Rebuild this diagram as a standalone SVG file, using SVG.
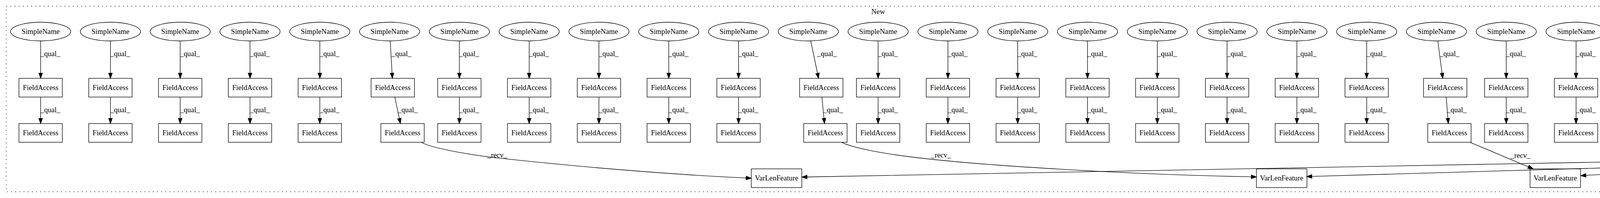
<svg xmlns="http://www.w3.org/2000/svg" width="5219" height="508" viewBox="0 0 5219 508">
<style>
text{font-family:"Liberation Serif","Times New Roman",serif;font-size:18.67px;fill:#000;text-anchor:middle}
.cl{fill:none;stroke:#000;stroke-width:1.33;stroke-dasharray:2,8.67}
.node ellipse,.node rect{fill:none;stroke:#000;stroke-width:1.33}
#edges path{fill:none;stroke:#000;stroke-width:1.33;marker-end:url(#ah)}
</style>
<defs>
<marker id="ah" markerUnits="userSpaceOnUse" markerWidth="13.33" markerHeight="9.33" viewBox="0 0 13.33 9.33" refX="0" refY="4.67" orient="auto" overflow="visible"><path d="M0,0 L13.33,4.67 L0,9.33 Z" fill="#000" stroke="#000" stroke-width="1.33"/></marker>
</defs>
<rect x="0" y="0" width="5219" height="508" fill="#fff"/>
<g id="cluster_new"><rect class="cl" x="16" y="16" width="4464" height="476"/><text x="2248" y="36">New</text></g>
<g id="cluster_old"><rect class="cl" x="4490.7" y="160" width="712.3" height="215.7"/><text x="4846.7" y="180">Old</text></g>

<g id="n_sn1" class="node"><ellipse cx="104" cy="81" rx="77" ry="24"/><text x="104" y="86.6">SimpleName</text></g>
<g id="n_sn2" class="node"><ellipse cx="282.7" cy="81" rx="77" ry="24"/><text x="282.7" y="86.6">SimpleName</text></g>
<g id="n_sn3" class="node"><ellipse cx="461.3" cy="81" rx="77" ry="24"/><text x="461.3" y="86.6">SimpleName</text></g>
<g id="n_sn4" class="node"><ellipse cx="640" cy="81" rx="77" ry="24"/><text x="640" y="86.6">SimpleName</text></g>
<g id="n_sn5" class="node"><ellipse cx="818.7" cy="81" rx="77" ry="24"/><text x="818.7" y="86.6">SimpleName</text></g>
<g id="n_sn6" class="node"><ellipse cx="997.3" cy="81" rx="77" ry="24"/><text x="997.3" y="86.6">SimpleName</text></g>
<g id="n_sn7" class="node"><ellipse cx="1176" cy="81" rx="77" ry="24"/><text x="1176" y="86.6">SimpleName</text></g>
<g id="n_sn8" class="node"><ellipse cx="1354.7" cy="81" rx="77" ry="24"/><text x="1354.7" y="86.6">SimpleName</text></g>
<g id="n_sn9" class="node"><ellipse cx="1533.3" cy="81" rx="77" ry="24"/><text x="1533.3" y="86.6">SimpleName</text></g>
<g id="n_sn10" class="node"><ellipse cx="1712" cy="81" rx="77" ry="24"/><text x="1712" y="86.6">SimpleName</text></g>
<g id="n_sn11" class="node"><ellipse cx="1890.7" cy="81" rx="77" ry="24"/><text x="1890.7" y="86.6">SimpleName</text></g>
<g id="n_sn12" class="node"><ellipse cx="2069.3" cy="81" rx="77" ry="24"/><text x="2069.3" y="86.6">SimpleName</text></g>
<g id="n_sn13" class="node"><ellipse cx="2248" cy="81" rx="77" ry="24"/><text x="2248" y="86.6">SimpleName</text></g>
<g id="n_sn14" class="node"><ellipse cx="2426.7" cy="81" rx="77" ry="24"/><text x="2426.7" y="86.6">SimpleName</text></g>
<g id="n_sn15" class="node"><ellipse cx="2605.3" cy="81" rx="77" ry="24"/><text x="2605.3" y="86.6">SimpleName</text></g>
<g id="n_sn16" class="node"><ellipse cx="2784" cy="81" rx="77" ry="24"/><text x="2784" y="86.6">SimpleName</text></g>
<g id="n_sn17" class="node"><ellipse cx="2962.7" cy="81" rx="77" ry="24"/><text x="2962.7" y="86.6">SimpleName</text></g>
<g id="n_sn18" class="node"><ellipse cx="3141.3" cy="81" rx="77" ry="24"/><text x="3141.3" y="86.6">SimpleName</text></g>
<g id="n_sn19" class="node"><ellipse cx="3320" cy="81" rx="77" ry="24"/><text x="3320" y="86.6">SimpleName</text></g>
<g id="n_sn20" class="node"><ellipse cx="3498.7" cy="81" rx="77" ry="24"/><text x="3498.7" y="86.6">SimpleName</text></g>
<g id="n_sn21" class="node"><ellipse cx="3677.3" cy="81" rx="77" ry="24"/><text x="3677.3" y="86.6">SimpleName</text></g>
<g id="n_sn22" class="node"><ellipse cx="3856" cy="81" rx="77" ry="24"/><text x="3856" y="86.6">SimpleName</text></g>
<g id="n_sn23" class="node"><ellipse cx="4034.7" cy="81" rx="77" ry="24"/><text x="4034.7" y="86.6">SimpleName</text></g>
<g id="n_sn24" class="node"><ellipse cx="4213.3" cy="81" rx="77" ry="24"/><text x="4213.3" y="86.6">SimpleName</text></g>
<g id="n_sn25" class="node"><ellipse cx="4392" cy="81" rx="77" ry="24"/><text x="4392" y="86.6">SimpleName</text></g>

<g id="n_fa1_1" class="node"><rect x="48.5" y="201" width="111" height="48"/><text x="104" y="230.6">FieldAccess</text></g>
<g id="n_fa1_2" class="node"><rect x="227.2" y="201" width="111" height="48"/><text x="282.7" y="230.6">FieldAccess</text></g>
<g id="n_fa1_3" class="node"><rect x="405.8" y="201" width="111" height="48"/><text x="461.3" y="230.6">FieldAccess</text></g>
<g id="n_fa1_4" class="node"><rect x="584.5" y="201" width="111" height="48"/><text x="640" y="230.6">FieldAccess</text></g>
<g id="n_fa1_5" class="node"><rect x="763.2" y="201" width="111" height="48"/><text x="818.7" y="230.6">FieldAccess</text></g>
<g id="n_fa1_6" class="node"><rect x="950" y="201" width="111" height="48"/><text x="1005.5" y="230.6">FieldAccess</text></g>
<g id="n_fa1_7" class="node"><rect x="1120.5" y="201" width="111" height="48"/><text x="1176" y="230.6">FieldAccess</text></g>
<g id="n_fa1_8" class="node"><rect x="1299.2" y="201" width="111" height="48"/><text x="1354.7" y="230.6">FieldAccess</text></g>
<g id="n_fa1_9" class="node"><rect x="1477.8" y="201" width="111" height="48"/><text x="1533.3" y="230.6">FieldAccess</text></g>
<g id="n_fa1_10" class="node"><rect x="1656.5" y="201" width="111" height="48"/><text x="1712" y="230.6">FieldAccess</text></g>
<g id="n_fa1_11" class="node"><rect x="1835.2" y="201" width="111" height="48"/><text x="1890.7" y="230.6">FieldAccess</text></g>
<g id="n_fa1_12" class="node"><rect x="2047" y="201" width="111" height="48"/><text x="2102.5" y="230.6">FieldAccess</text></g>
<g id="n_fa1_13" class="node"><rect x="2192.5" y="201" width="111" height="48"/><text x="2248" y="230.6">FieldAccess</text></g>
<g id="n_fa1_14" class="node"><rect x="2371.2" y="201" width="111" height="48"/><text x="2426.7" y="230.6">FieldAccess</text></g>
<g id="n_fa1_15" class="node"><rect x="2549.8" y="201" width="111" height="48"/><text x="2605.3" y="230.6">FieldAccess</text></g>
<g id="n_fa1_16" class="node"><rect x="2728.5" y="201" width="111" height="48"/><text x="2784" y="230.6">FieldAccess</text></g>
<g id="n_fa1_17" class="node"><rect x="2907.2" y="201" width="111" height="48"/><text x="2962.7" y="230.6">FieldAccess</text></g>
<g id="n_fa1_18" class="node"><rect x="3085.8" y="201" width="111" height="48"/><text x="3141.3" y="230.6">FieldAccess</text></g>
<g id="n_fa1_19" class="node"><rect x="3264.5" y="201" width="111" height="48"/><text x="3320" y="230.6">FieldAccess</text></g>
<g id="n_fa1_20" class="node"><rect x="3443.2" y="201" width="111" height="48"/><text x="3498.7" y="230.6">FieldAccess</text></g>
<g id="n_fa1_21" class="node"><rect x="3644.3" y="201" width="111" height="48"/><text x="3699.8" y="230.6">FieldAccess</text></g>
<g id="n_fa1_22" class="node"><rect x="3800.5" y="201" width="111" height="48"/><text x="3856" y="230.6">FieldAccess</text></g>
<g id="n_fa1_23" class="node"><rect x="3979.2" y="201" width="111" height="48"/><text x="4034.7" y="230.6">FieldAccess</text></g>
<g id="n_fa1_24" class="node"><rect x="4157.8" y="201" width="111" height="48"/><text x="4213.3" y="230.6">FieldAccess</text></g>
<g id="n_fa1_25" class="node"><rect x="4341.7" y="201" width="111" height="48"/><text x="4397.2" y="230.6">FieldAccess</text></g>

<g id="n_fa2_1" class="node"><rect x="48.5" y="317" width="111" height="48"/><text x="104" y="346.6">FieldAccess</text></g>
<g id="n_fa2_2" class="node"><rect x="227.2" y="317" width="111" height="48"/><text x="282.7" y="346.6">FieldAccess</text></g>
<g id="n_fa2_3" class="node"><rect x="405.8" y="317" width="111" height="48"/><text x="461.3" y="346.6">FieldAccess</text></g>
<g id="n_fa2_4" class="node"><rect x="584.5" y="317" width="111" height="48"/><text x="640" y="346.6">FieldAccess</text></g>
<g id="n_fa2_5" class="node"><rect x="763.2" y="317" width="111" height="48"/><text x="818.7" y="346.6">FieldAccess</text></g>
<g id="n_fa2_6" class="node"><rect x="975" y="317" width="111" height="48"/><text x="1030.5" y="346.6">FieldAccess</text></g>
<g id="n_fa2_7" class="node"><rect x="1120.5" y="317" width="111" height="48"/><text x="1176" y="346.6">FieldAccess</text></g>
<g id="n_fa2_8" class="node"><rect x="1299.2" y="317" width="111" height="48"/><text x="1354.7" y="346.6">FieldAccess</text></g>
<g id="n_fa2_9" class="node"><rect x="1477.8" y="317" width="111" height="48"/><text x="1533.3" y="346.6">FieldAccess</text></g>
<g id="n_fa2_10" class="node"><rect x="1656.5" y="317" width="111" height="48"/><text x="1712" y="346.6">FieldAccess</text></g>
<g id="n_fa2_11" class="node"><rect x="1835.2" y="317" width="111" height="48"/><text x="1890.7" y="346.6">FieldAccess</text></g>
<g id="n_fa2_12" class="node"><rect x="2057.5" y="317" width="111" height="48"/><text x="2113" y="346.6">FieldAccess</text></g>
<g id="n_fa2_13" class="node"><rect x="2192.5" y="317" width="111" height="48"/><text x="2248" y="346.6">FieldAccess</text></g>
<g id="n_fa2_14" class="node"><rect x="2371.2" y="317" width="111" height="48"/><text x="2426.7" y="346.6">FieldAccess</text></g>
<g id="n_fa2_15" class="node"><rect x="2549.8" y="317" width="111" height="48"/><text x="2605.3" y="346.6">FieldAccess</text></g>
<g id="n_fa2_16" class="node"><rect x="2728.5" y="317" width="111" height="48"/><text x="2784" y="346.6">FieldAccess</text></g>
<g id="n_fa2_17" class="node"><rect x="2907.2" y="317" width="111" height="48"/><text x="2962.7" y="346.6">FieldAccess</text></g>
<g id="n_fa2_18" class="node"><rect x="3085.8" y="317" width="111" height="48"/><text x="3141.3" y="346.6">FieldAccess</text></g>
<g id="n_fa2_19" class="node"><rect x="3264.5" y="317" width="111" height="48"/><text x="3320" y="346.6">FieldAccess</text></g>
<g id="n_fa2_20" class="node"><rect x="3443.2" y="317" width="111" height="48"/><text x="3498.7" y="346.6">FieldAccess</text></g>
<g id="n_fa2_21" class="node"><rect x="3655" y="317" width="111" height="48"/><text x="3710.5" y="346.6">FieldAccess</text></g>
<g id="n_fa2_22" class="node"><rect x="3800.5" y="317" width="111" height="48"/><text x="3856" y="346.6">FieldAccess</text></g>
<g id="n_fa2_23" class="node"><rect x="3979.2" y="317" width="111" height="48"/><text x="4034.7" y="346.6">FieldAccess</text></g>
<g id="n_fa2_24" class="node"><rect x="4157.8" y="317" width="111" height="48"/><text x="4213.3" y="346.6">FieldAccess</text></g>
<g id="n_fa2_25" class="node"><rect x="4344.3" y="317" width="111" height="48"/><text x="4399.8" y="346.6">FieldAccess</text></g>

<g id="n_vlf_a" class="node"><rect x="1923.3" y="433.3" width="129.3" height="48"/><text x="1988" y="462.9">VarLenFeature</text></g>
<g id="n_vlf_b" class="node"><rect x="3216.4" y="433.3" width="129.3" height="48"/><text x="3281" y="462.9">VarLenFeature</text></g>
<g id="n_vlf_c" class="node"><rect x="3916.9" y="433.3" width="129.3" height="48"/><text x="3981.5" y="462.9">VarLenFeature</text></g>
<g id="n_vlf_d" class="node"><rect x="4337.9" y="433.3" width="129.3" height="48"/><text x="4402.5" y="462.9">VarLenFeature</text></g>

<g id="n_old_sn1" class="node"><ellipse cx="4578" cy="225" rx="77" ry="24"/><text x="4578" y="230.6">SimpleName</text></g>
<g id="n_old_sn2" class="node"><ellipse cx="4757.3" cy="225" rx="77" ry="24"/><text x="4757.3" y="230.6">SimpleName</text></g>
<g id="n_old_sn3" class="node"><ellipse cx="4936.7" cy="225" rx="77" ry="24"/><text x="4936.7" y="230.6">SimpleName</text></g>
<g id="n_old_sn4" class="node"><ellipse cx="5116" cy="225" rx="77" ry="24"/><text x="5116" y="230.6">SimpleName</text></g>
<g id="n_old_vlf1" class="node"><rect x="4507.3" y="317" width="129.3" height="48"/><text x="4572" y="346.6">VarLenFeature</text></g>
<g id="n_old_vlf2" class="node"><rect x="4676.7" y="317" width="129.3" height="48"/><text x="4741.3" y="346.6">VarLenFeature</text></g>
<g id="n_old_vlf3" class="node"><rect x="4850.7" y="317" width="129.3" height="48"/><text x="4915.4" y="346.6">VarLenFeature</text></g>
<g id="n_old_vlf4" class="node"><rect x="5027.3" y="317" width="129.3" height="48"/><text x="5092" y="346.6">VarLenFeature</text></g>

<g id="edges">
<path d="M104,105V187.7"/><path d="M104,249V303.7"/>
<path d="M282.7,105V187.7"/><path d="M282.7,249V303.7"/>
<path d="M461.3,105V187.7"/><path d="M461.3,249V303.7"/>
<path d="M640,105V187.7"/><path d="M640,249V303.7"/>
<path d="M818.7,105V187.7"/><path d="M818.7,249V303.7"/>
<path d="M999,105L1003.7,187.7"/><path d="M1010.7,249L1022.3,304"/>
<path d="M1176,105V187.7"/><path d="M1176,249V303.7"/>
<path d="M1354.7,105V187.7"/><path d="M1354.7,249V303.7"/>
<path d="M1533.3,105V187.7"/><path d="M1533.3,249V303.7"/>
<path d="M1712,105V187.7"/><path d="M1712,249V303.7"/>
<path d="M1890.7,105V187.7"/><path d="M1890.7,249V303.7"/>
<path d="M2075.5,105L2092.8,188"/><path d="M2104,249L2109.4,303.7"/>
<path d="M2248,105V187.7"/><path d="M2248,249V303.7"/>
<path d="M2426.7,105V187.7"/><path d="M2426.7,249V303.7"/>
<path d="M2605.3,105V187.7"/><path d="M2605.3,249V303.7"/>
<path d="M2784,105V187.7"/><path d="M2784,249V303.7"/>
<path d="M2962.7,105V187.7"/><path d="M2962.7,249V303.7"/>
<path d="M3141.3,105V187.7"/><path d="M3141.3,249V303.7"/>
<path d="M3320,105V187.7"/><path d="M3320,249V303.7"/>
<path d="M3498.7,105V187.7"/><path d="M3498.7,249V303.7"/>
<path d="M3680.7,105L3691.7,187.8"/><path d="M3702.3,249L3706.6,303.7"/>
<path d="M3856,105V187.7"/><path d="M3856,249V303.7"/>
<path d="M4034.7,105V187.7"/><path d="M4034.7,249V303.7"/>
<path d="M4213.3,105V187.7"/><path d="M4213.3,249V303.7"/>
<path d="M4392.5,105L4394.6,187.7"/><path d="M4397.7,249L4399,303.7"/>

<path d="M1079,365.3C1100,378 1180,393.5 1257,403.5C1450,425 1700,447 1910,456.6"/>
<path d="M2155,365.3C2180,378 2250,392 2320,401C2500,425 2900,448 3203.3,453.6"/>
<path d="M3764,365.3L3912.7,428.1"/>
<path d="M4401,365.3L4401.8,420"/>

<path d="M4577.3,249L4574.1,303.7"/>
<path d="M4754.6,249L4746.6,303.8"/>
<path d="M4932.3,249L4922.6,303.9"/>
<path d="M5110.8,249L5100.5,303.9"/>

<path d="M4541.7,365.3C4520,385 4490,404 4456.7,409.2L2066,454"/>
<path d="M4697,365.3C4670,385 4600,405 4480,421.7C4400,430 4300,436 4060,449.9"/>
<path d="M4860.6,365.3C4830,392 4760,412 4650,420C4500,431 4250,428 4100,431L3358.4,452.6"/>
<path d="M5027,365.3C4960,392 4850,420 4700,433.3L4480.6,450.6"/>

<text x="129" y="143.7">_qual_</text><text x="129" y="288">_qual_</text>
<text x="307.7" y="143.7">_qual_</text><text x="307.7" y="288">_qual_</text>
<text x="486.3" y="143.7">_qual_</text><text x="486.3" y="288">_qual_</text>
<text x="665" y="143.7">_qual_</text><text x="665" y="288">_qual_</text>
<text x="843.7" y="143.7">_qual_</text><text x="843.7" y="288">_qual_</text>
<text x="1028" y="143.7">_qual_</text><text x="1043.8" y="288">_qual_</text>
<text x="1201" y="143.7">_qual_</text><text x="1201" y="288">_qual_</text>
<text x="1379.7" y="143.7">_qual_</text><text x="1379.7" y="288">_qual_</text>
<text x="1558.3" y="143.7">_qual_</text><text x="1558.3" y="288">_qual_</text>
<text x="1737" y="143.7">_qual_</text><text x="1737" y="288">_qual_</text>
<text x="1915.7" y="143.7">_qual_</text><text x="1915.7" y="288">_qual_</text>
<text x="2117" y="143.7">_qual_</text><text x="2132.5" y="288">_qual_</text>
<text x="2273" y="143.7">_qual_</text><text x="2273" y="288">_qual_</text>
<text x="2451.7" y="143.7">_qual_</text><text x="2451.7" y="288">_qual_</text>
<text x="2630.3" y="143.7">_qual_</text><text x="2630.3" y="288">_qual_</text>
<text x="2809" y="143.7">_qual_</text><text x="2809" y="288">_qual_</text>
<text x="2987.7" y="143.7">_qual_</text><text x="2987.7" y="288">_qual_</text>
<text x="3166.3" y="143.7">_qual_</text><text x="3166.3" y="288">_qual_</text>
<text x="3345" y="143.7">_qual_</text><text x="3345" y="288">_qual_</text>
<text x="3523.7" y="143.7">_qual_</text><text x="3523.7" y="288">_qual_</text>
<text x="3711" y="143.7">_qual_</text><text x="3729.5" y="288">_qual_</text>
<text x="3881" y="143.7">_qual_</text><text x="3881" y="288">_qual_</text>
<text x="4059.7" y="143.7">_qual_</text><text x="4059.7" y="288">_qual_</text>
<text x="4238.3" y="143.7">_qual_</text><text x="4238.3" y="288">_qual_</text>
<text x="4418" y="143.7">_qual_</text><text x="4423.3" y="288">_qual_</text>

<text x="1273" y="404">_recv_</text>
<text x="2409" y="404">_recv_</text>
<text x="3892.5" y="405">_recv_</text>
<text x="4426" y="405">_recv_</text>
<text x="4600.4" y="288">_recv_</text>
<text x="4774" y="288">_recv_</text>
<text x="4950.5" y="288">_recv_</text>
<text x="5130.5" y="288">_recv_</text>
<text x="4528.3" y="405">_map_</text>
<text x="4668.3" y="405">_map_</text>
<text x="4814.5" y="404">_map_</text>
<text x="4971.5" y="404">_map_</text>
</g>
</svg>
